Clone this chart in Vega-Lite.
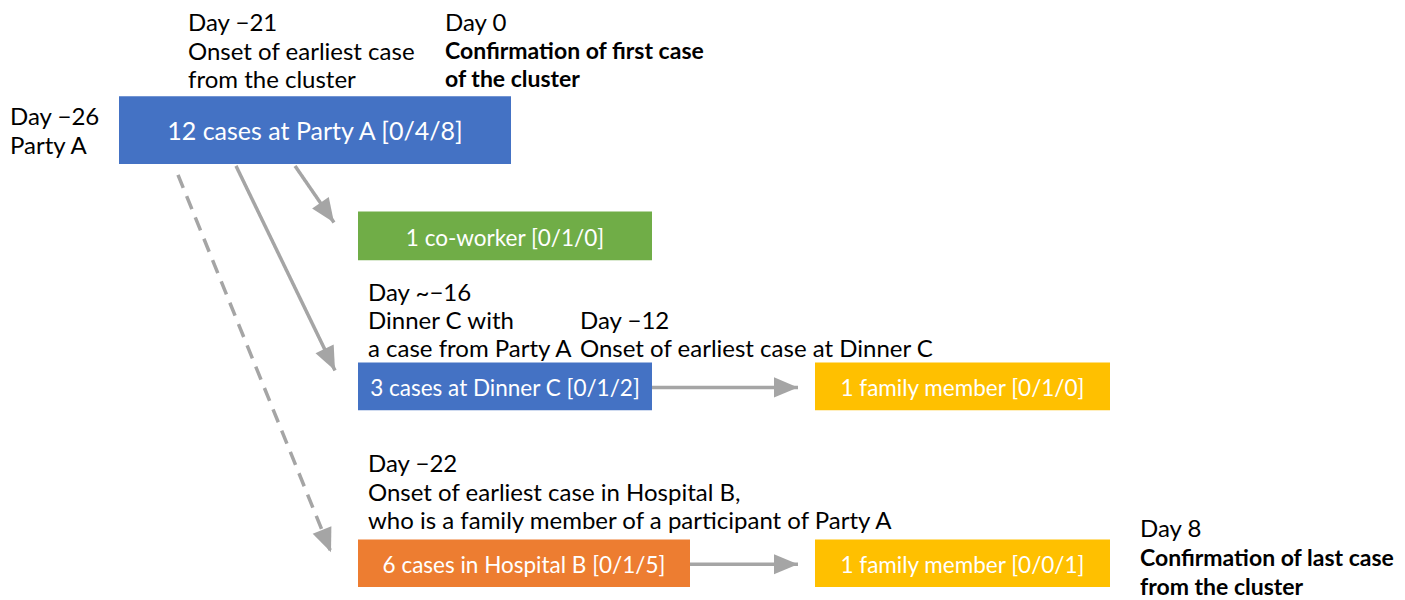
{
  "$schema": "https://vega.github.io/schema/vega-lite/v6.json",
  "width": 1405,
  "height": 600,
  "autosize": {"type": "fit", "contains": "padding"},
  "padding": 0,
  "background": "white",
  "config": {"view": {"stroke": null}},
  "datasets": {
    "boxes": [
      {"label": "12 cases at Party A [0/4/8]", "x": 119, "x2": 511, "y": 97, "y2": 165, "kind": "blue", "level": "source"},
      {"label": "1 co-worker [0/1/0]", "x": 358, "x2": 652, "y": 213, "y2": 262, "kind": "green", "level": "secondary"},
      {"label": "3 cases at Dinner C [0/1/2]", "x": 358, "x2": 652, "y": 365, "y2": 413, "kind": "blue", "level": "secondary"},
      {"label": "1 family member [0/1/0]", "x": 815, "x2": 1110, "y": 365, "y2": 413, "kind": "yellow", "level": "secondary"},
      {"label": "6 cases in Hospital B [0/1/5]", "x": 358, "x2": 690, "y": 543, "y2": 591, "kind": "orange", "level": "secondary"},
      {"label": "1 family member [0/0/1]", "x": 815, "x2": 1110, "y": 543, "y2": 591, "kind": "yellow", "level": "secondary"}
    ],
    "arrows": [
      {"x": 295, "y": 167, "x2": 334, "y2": 224, "style": "solid"},
      {"x": 236, "y": 167, "x2": 335, "y2": 373, "style": "solid"},
      {"x": 178, "y": 176, "x2": 331, "y2": 556, "style": "dashed"},
      {"x": 652, "y": 390, "x2": 798, "y2": 390, "style": "solid"},
      {"x": 690, "y": 568, "x2": 798, "y2": 568, "style": "solid"}
    ],
    "notes": [
      {"text": "Day −26", "x": 10, "y": 117},
      {"text": "Party A", "x": 10, "y": 146},
      {"text": "Day −21", "x": 188, "y": 22},
      {"text": "Onset of earliest case", "x": 188, "y": 51},
      {"text": "from the cluster", "x": 188, "y": 80},
      {"text": "Day 0", "x": 445, "y": 22},
      {"text": "Day ~−16", "x": 368, "y": 294},
      {"text": "Dinner C with", "x": 368, "y": 322},
      {"text": "a case from Party A", "x": 368, "y": 350},
      {"text": "Day −12", "x": 580, "y": 322},
      {"text": "Onset of earliest case at Dinner C", "x": 580, "y": 350},
      {"text": "Day −22", "x": 368, "y": 466},
      {"text": "Onset of earliest case in Hospital B,", "x": 368, "y": 495},
      {"text": "who is a family member of a participant of Party A", "x": 368, "y": 523},
      {"text": "Day 8", "x": 1140, "y": 532}
    ],
    "boldnotes": [
      {"text": "Confirmation of first case", "x": 445, "y": 50},
      {"text": "of the cluster", "x": 445, "y": 79},
      {"text": "Confirmation of last case", "x": 1140, "y": 561},
      {"text": "from the cluster", "x": 1140, "y": 590}
    ]
  },
  "encoding": {
    "x": {"field": "x", "type": "quantitative", "scale": {"domain": [0, 1405], "nice": false, "zero": false}, "axis": null},
    "y": {"field": "y", "type": "quantitative", "scale": {"domain": [0, 600], "nice": false, "zero": false, "reverse": true}, "axis": null}
  },
  "layer": [
    {
      "data": {"name": "arrows"},
      "mark": {"type": "rule", "strokeWidth": 3.5, "color": "#A5A5A5"},
      "encoding": {
        "x2": {"field": "x2"},
        "y2": {"field": "y2"},
        "strokeDash": {"field": "style", "type": "nominal", "scale": {"domain": ["solid", "dashed"], "range": [[1, 0], [14, 9]]}, "legend": null}
      }
    },
    {
      "data": {"name": "arrows"},
      "transform": [{"calculate": "atan2(datum.x2 - datum.x, -(datum.y2 - datum.y)) * 180 / PI", "as": "angle"}],
      "mark": {"type": "point", "shape": "M0,0 L-0.42,1 L0.42,1 Z", "filled": true, "opacity": 1, "color": "#A5A5A5", "size": 2304},
      "encoding": {
        "x": {"field": "x2", "type": "quantitative"},
        "y": {"field": "y2", "type": "quantitative"},
        "angle": {"field": "angle", "type": "quantitative", "scale": null}
      }
    },
    {
      "data": {"name": "boxes"},
      "mark": {"type": "rect"},
      "encoding": {
        "x2": {"field": "x2"},
        "y2": {"field": "y2"},
        "color": {"field": "kind", "type": "nominal", "scale": {"domain": ["blue", "green", "yellow", "orange"], "range": ["#4472C4", "#70AD47", "#FFC000", "#ED7D31"]}, "legend": null}
      }
    },
    {
      "data": {"name": "boxes"},
      "transform": [
        {"filter": "datum.level === 'source'"},
        {"calculate": "(datum.x + datum.x2) / 2", "as": "cx"},
        {"calculate": "(datum.y + datum.y2) / 2", "as": "cy"}
      ],
      "mark": {"type": "text", "font": "Lato", "fontSize": 25, "color": "white", "align": "center", "baseline": "middle", "dy": 2},
      "encoding": {
        "x": {"field": "cx", "type": "quantitative"},
        "y": {"field": "cy", "type": "quantitative"},
        "text": {"field": "label"}
      }
    },
    {
      "data": {"name": "boxes"},
      "transform": [
        {"filter": "datum.level === 'secondary'"},
        {"calculate": "(datum.x + datum.x2) / 2", "as": "cx"},
        {"calculate": "(datum.y + datum.y2) / 2", "as": "cy"}
      ],
      "mark": {"type": "text", "font": "Lato", "fontSize": 22.5, "color": "white", "align": "center", "baseline": "middle", "dy": 3},
      "encoding": {
        "x": {"field": "cx", "type": "quantitative"},
        "y": {"field": "cy", "type": "quantitative"},
        "text": {"field": "label"}
      }
    },
    {
      "data": {"name": "notes"},
      "mark": {"type": "text", "font": "Lato", "fontSize": 24, "color": "black", "align": "left", "baseline": "middle", "dy": 2},
      "encoding": {"text": {"field": "text"}}
    },
    {
      "data": {"name": "boldnotes"},
      "mark": {"type": "text", "font": "Lato", "fontSize": 23, "fontWeight": "bold", "color": "black", "align": "left", "baseline": "middle", "dy": 2},
      "encoding": {"text": {"field": "text"}}
    }
  ]
}
